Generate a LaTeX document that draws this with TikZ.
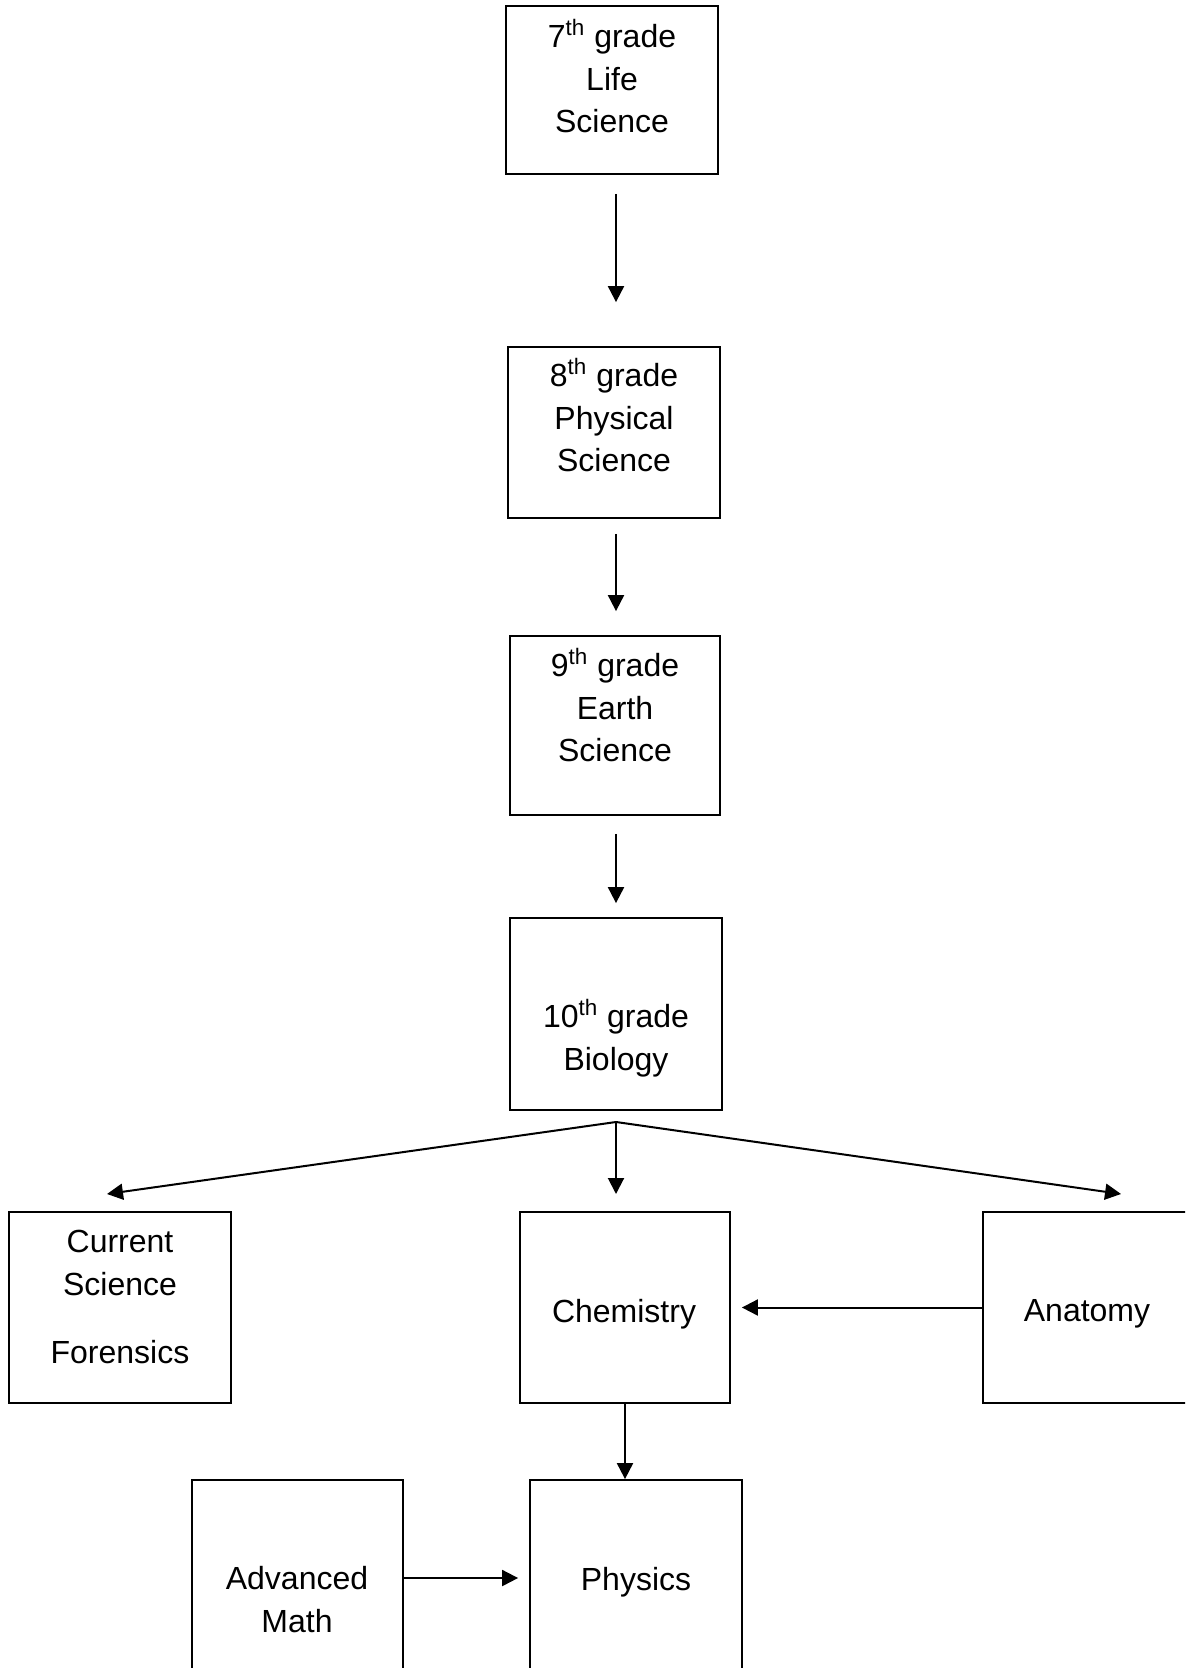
\documentclass[tikz,border=0pt]{standalone}
\usepackage{fontspec}
\setmainfont{Liberation Sans}
\usetikzlibrary{shapes,calc,arrows.meta}

\begin{document}
\begin{tikzpicture}
        [x=0.5pt,y=-0.5pt,
        box/.style={shape=rectangle,draw,line width=0.9pt,inner sep=0pt,minimum width=106pt},
        txt/.style={align=center,inner sep=0pt,font=\fontsize{16}{21.25}\selectfont},
        arr/.style={line width=1pt,-{Triangle[length=8pt,width=8pt]}}]
        \useasboundingbox (0,0) rectangle (1185,1668);
        \clip (0,0) rectangle (1185,1668);
        %% grade boxes
        \node[box,minimum height=84pt] (b7) at (612,90) {};
        \node[box,minimum height=85.5pt] (b8) at (614,432.5) {};
        \node[box,minimum width=105pt,minimum height=89.5pt] (b9) at (615,725.5) {};
        \node[box,minimum height=96pt] (b10) at (616,1014) {};
        %% electives
        \node[box,minimum width=111pt,minimum height=95.5pt] (cs) at (120,1307.5) {};
        \node[box,minimum width=105pt,minimum height=95.5pt] (ch) at (625,1307.5) {};
        \node[box,minimum height=95.5pt] (an) at (1089,1307.5) {};
        \node[box,minimum width=105.5pt,minimum height=98pt] (am) at (297.5,1578) {};
        \node[box,minimum height=98pt] (ph) at (636,1578) {};
        %% texts
        \node[txt] (t7) at (612,76) {7\textsuperscript{th} grade\\Life\\Science};
        \node[txt] (t8) at (614,415) {8\textsuperscript{th} grade\\Physical\\Science};
        \node[txt] (t9) at (615,705) {9\textsuperscript{th} grade\\Earth\\Science};
        \node[txt] (t10) at (616,1038) {10\textsuperscript{th} grade\\Biology};
        \node[txt] (tcs) at (120,1297) {Current\\Science\\[13pt]Forensics};
        \node[txt] (tch) at (624,1314) {Chemistry};
        \node[txt] (tan) at (1087,1314) {Anatomy};
        \node[txt] (tam) at (297,1599.5) {Advanced\\Math};
        \node[txt] (tph) at (636,1582) {Physics};
        %%
        \path
        \foreach \startNode/\endNode/\gapA/\gapB in {b7/b8/9.5pt/22pt,b8/b9/7.5pt/12pt,b9/b10/9pt/7pt}
        {
          (\startNode.south -| b10) edge[arr,shorten <=\gapA,shorten >=\gapB] (\endNode.north -| b10)
        };
        \coordinate (fork) at (616,1122);
        \coordinate (tipL) at (107,1194);
        \coordinate (tipM) at (616,1194);
        \coordinate (tipR) at (1121,1194);
        \path
        \foreach \endNode in {tipL,tipM,tipR}
        {
          (fork) edge[arr] (\endNode)
        };
        \draw[arr,shorten >=5.5pt] (an.west) -- (ch.east);
        \draw[arr] (ch.south) -- (ch.south |- ph.north);
        \draw[arr,shorten >=5.5pt] (am.east) -- (ph.west);
\end{tikzpicture}
\end{document}
